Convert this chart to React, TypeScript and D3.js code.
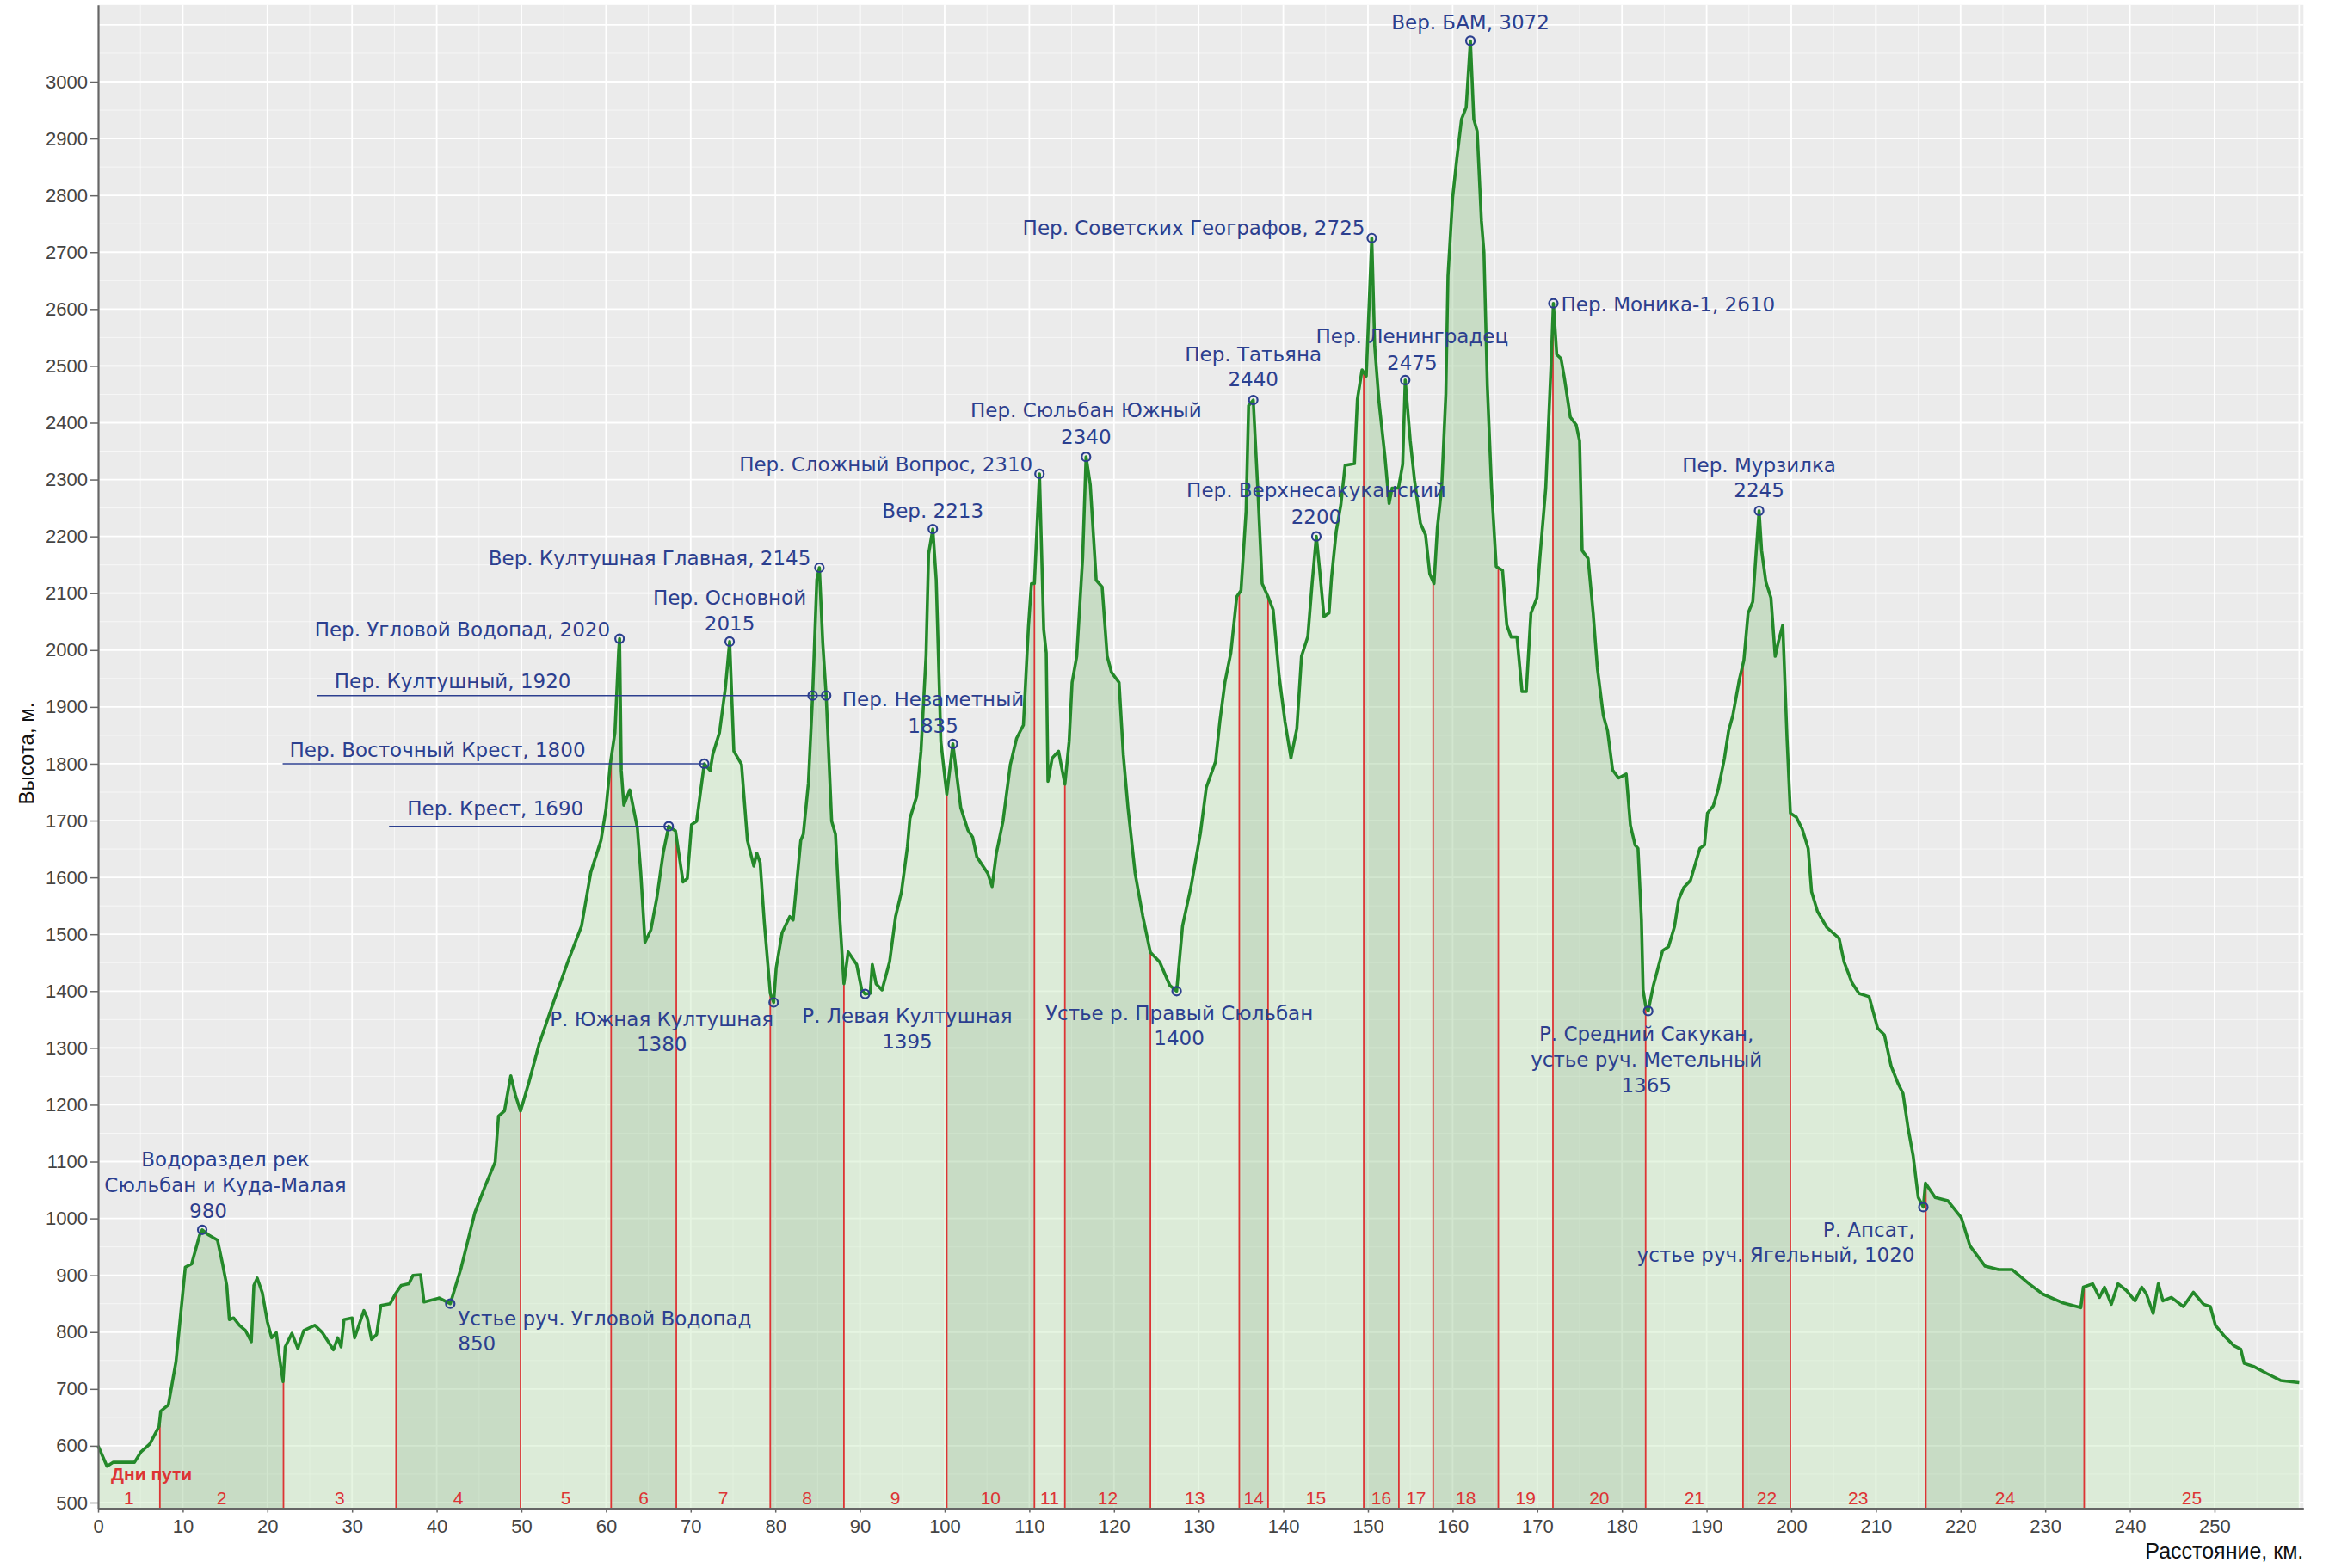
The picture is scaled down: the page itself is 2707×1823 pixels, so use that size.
import React, { useLayoutEffect, useRef } from 'react';
import * as d3 from 'd3';

// elevation profile: distance along the route (km) and height (m)
const profileKm = [
  0, 1.05, 1.8, 4.3, 5.05, 6.1, 7.2, 7.4, 8.3, 9.2, 10.3, 11.05, 12.0, 12.3, 13.05, 14.1, 14.7, 15.2, 15.5, 16.0,
  16.7, 17.4, 18.1, 18.4, 18.8, 19.4, 20.0, 20.5, 21.05, 21.5, 21.85, 22.1, 22.9, 23.6, 24.3, 25.6, 26.5, 27.8, 28.3, 28.7,
  29.05, 30.0, 30.3, 31.4, 31.8, 32.3, 32.9, 33.4, 34.5, 35.2, 35.8, 36.7, 37.2, 38.1, 38.5, 40.3, 41.6, 42.9, 44.5, 45.8,
  46.9, 47.3, 48.0, 48.75, 49.3, 49.9, 50.9, 52.1, 53.9, 55.5, 57.1, 58.2, 59.4, 60.0, 60.5, 61.05, 61.5, 61.6, 61.8, 62.1,
  62.8, 63.7, 64.1, 64.6, 65.3, 66.0, 66.75, 67.4, 68.2, 69.1, 69.6, 70.1, 70.7, 71.6, 72.3, 72.6, 73.4, 74.1, 74.6, 75.1,
  76.0, 76.7, 77.45, 77.8, 78.2, 78.7, 79.4, 79.8, 80.1, 80.8, 81.7, 82.1, 83.0, 83.3, 83.9, 84.4, 84.9, 85.2, 85.6, 86.0,
  86.65, 87.1, 87.6, 88.1, 88.6, 89.6, 90.2, 90.6, 91.2, 91.45, 91.9, 92.6, 93.5, 94.2, 94.9, 95.6, 95.9, 96.7, 97.2, 97.8,
  98.1, 98.6, 99.0, 99.55, 100.25, 100.97, 101.9, 102.75, 103.3, 103.8, 105.1, 105.6, 106.1, 106.9, 107.75, 108.5, 109.3, 109.9, 110.25, 110.6,
  111.2, 111.7, 112.0, 112.2, 112.7, 113.45, 114.2, 114.7, 115.05, 115.6, 116.3, 116.7, 117.2, 117.9, 118.6, 119.2, 119.7, 120.6, 121.1, 121.65,
  122.5, 123.4, 124.3, 125.4, 126.6, 127.4, 128.1, 129.1, 130.2, 130.9, 132.0, 132.5, 133.1, 133.8, 134.5, 135.0, 135.6, 135.9, 136.45, 137.0,
  137.5, 138.2, 138.8, 139.5, 140.2, 140.9, 141.6, 142.15, 142.9, 143.4, 143.9, 144.3, 144.8, 145.4, 145.7, 146.25, 146.8, 147.3, 148.4, 148.75,
  149.3, 149.8, 150.45, 150.8, 151.3, 152.0, 152.5, 152.85, 153.6, 154.1, 154.4, 155.0, 155.5, 156.2, 156.8, 157.3, 157.8, 158.2, 158.7, 159.2,
  159.45, 160.0, 160.5, 161.05, 161.6, 162.1, 162.5, 162.9, 163.4, 163.7, 164.1, 164.6, 165.15, 165.9, 166.4, 166.9, 167.6, 168.2, 168.7, 169.25,
  169.96, 170.3, 171.0, 171.6, 171.9, 172.3, 172.8, 173.2, 173.9, 174.6, 175.0, 175.3, 176.0, 176.6, 177.1, 177.8, 178.3, 178.9, 179.6, 180.5,
  181.0, 181.55, 181.9, 182.3, 182.5, 182.8, 183.1, 183.7, 184.2, 184.8, 185.5, 186.2, 186.7, 187.3, 188.1, 189.2, 189.75, 190.1, 190.8, 191.35,
  192.1, 192.6, 193.1, 193.85, 194.4, 194.9, 195.45, 195.8, 196.2, 196.5, 197.0, 197.6, 198.1, 198.5, 199.0, 199.5, 199.9, 200.6, 201.3, 202.0,
  202.4, 203.1, 204.2, 205.65, 206.25, 207.2, 208.0, 209.2, 210.2, 211.0, 211.8, 212.6, 213.2, 213.8, 214.4, 215.0, 215.6, 215.85, 217.0, 218.5,
  220.1, 221.1, 222.9, 224.5, 226.1, 228.1, 229.7, 232.0, 234.2, 234.5, 235.6, 236.4, 237.0, 237.8, 238.6, 239.6, 240.6, 241.4, 241.95, 242.75,
  243.35, 243.9, 244.9, 246.3, 247.5, 248.7, 249.5, 250.1, 251.1, 252.3, 253.1, 253.5, 254.7, 256.2, 257.8, 260.0,
];
const profileElev = [
  600, 564, 571, 571, 589, 603, 634, 661, 672, 748, 914, 920, 971, 980, 971, 962, 920, 882, 822, 825,
  812, 803, 783, 882, 895, 869, 818, 790, 799, 748, 713, 774, 798, 771, 803, 812, 799, 769, 790, 774,
  822, 825, 790, 838, 825, 787, 796, 847, 850, 869, 882, 885, 900, 901, 853, 860, 850, 914, 1010, 1060,
  1099, 1180, 1189, 1251, 1217, 1189, 1240, 1307, 1385, 1452, 1514, 1609, 1665, 1721, 1799, 1855, 2001, 2020, 1788, 1727,
  1754, 1687, 1609, 1486, 1508, 1564, 1643, 1690, 1682, 1592, 1598, 1693, 1699, 1800, 1788, 1816, 1855, 1934, 2015, 1822,
  1799, 1665, 1620, 1643, 1626, 1520, 1396, 1380, 1441, 1503, 1531, 1525, 1665, 1676, 1766, 1920, 2124, 2145, 2012, 1920,
  1699, 1676, 1531, 1413, 1469, 1447, 1402, 1395, 1396, 1447, 1413, 1402, 1452, 1531, 1575, 1654, 1704, 1743, 1822, 1990,
  2169, 2213, 2124, 1839, 1746, 1835, 1723, 1683, 1671, 1636, 1607, 1584, 1642, 1700, 1798, 1845, 1868, 2042, 2117, 2117,
  2310, 2036, 1995, 1769, 1810, 1822, 1764, 1839, 1943, 1989, 2163, 2340, 2291, 2123, 2111, 1989, 1961, 1943, 1816, 1723,
  1607, 1532, 1468, 1451, 1410, 1400, 1515, 1584, 1677, 1758, 1804, 1874, 1943, 1995, 2094, 2105, 2244, 2430, 2440, 2279,
  2117, 2094, 2071, 1955, 1874, 1810, 1862, 1989, 2024, 2117, 2200, 2140, 2059, 2065, 2128, 2209, 2256, 2325, 2328, 2441,
  2493, 2482, 2725, 2534, 2437, 2341, 2258, 2285, 2285, 2327, 2475, 2368, 2299, 2223, 2203, 2134, 2117, 2216, 2285, 2451,
  2658, 2796, 2865, 2934, 2955, 3072, 2934, 2913, 2755, 2700, 2465, 2285, 2147, 2140, 2044, 2023, 2023, 1927, 1927, 2065,
  2092, 2161, 2285, 2492, 2610, 2520, 2513, 2479, 2410, 2396, 2368, 2175, 2161, 2065, 1968, 1885, 1858, 1789, 1775, 1782,
  1692, 1657, 1651, 1526, 1402, 1374, 1365, 1409, 1437, 1471, 1478, 1513, 1561, 1582, 1595, 1651, 1657, 1713, 1726, 1754,
  1809, 1858, 1885, 1947, 1982, 2065, 2085, 2161, 2245, 2175, 2120, 2092, 1989, 2016, 2044, 1844, 1713, 1706, 1685, 1651,
  1575, 1540, 1512, 1493, 1451, 1414, 1396, 1390, 1335, 1323, 1268, 1238, 1220, 1159, 1110, 1037, 1020, 1062, 1037, 1031,
  1001, 952, 916, 910, 910, 885, 867, 852, 843, 879, 885, 861, 879, 849, 885, 873, 855, 879, 867, 833,
  885, 855, 861, 845, 870, 849, 845, 812, 794, 776, 770, 745, 739, 727, 715, 711,
];

// where each day of the trek ends, km
const dayEndsKm = [
  7.3, 21.9, 35.2, 49.9, 60.6, 68.3, 79.4, 88.1, 100.25, 110.6, 114.2, 124.3,
  134.8, 138.2, 149.5, 153.65, 157.7, 165.4, 171.85, 182.8, 194.3, 199.9, 215.9, 234.6,
];
const dayNames = [
  '1', '2', '3', '4', '5', '6', '7', '8', '9', '10', '11', '12', '13',
  '14', '15', '16', '17', '18', '19', '20', '21', '22', '23', '24', '25',
];

// named passes, summits and river crossings
const pointKm = [
  12.3, 41.6, 61.6, 67.4, 71.6, 74.6, 79.8, 84.4, 86.0, 85.2, 90.6, 98.6, 100.97,
  111.2, 116.7, 127.4, 136.45, 143.9, 150.45, 154.4, 162.1, 171.9, 183.1, 196.2, 215.6,
];
const pointElev = [
  980, 850, 2020, 1690, 1800, 2015, 1380, 1920, 1920, 2145, 1395, 2213, 1835,
  2310, 2340, 1400, 2440, 2200, 2725, 2475, 3072, 2610, 1365, 2245, 1020,
];
const pointLabels: string[][] = [
  ['Водораздел рек', 'Сюльбан и Куда-Малая', '980'],
  ['Устье руч. Угловой Водопад', '850'],
  ['Пер. Угловой Водопад, 2020'],
  ['Пер. Крест, 1690'],
  ['Пер. Восточный Крест, 1800'],
  ['Пер. Основной', '2015'],
  ['Р. Южная Култушная', '1380'],
  ['Пер. Култушный, 1920'],
  [],
  ['Вер. Култушная Главная, 2145'],
  ['Р. Левая Култушная', '1395'],
  ['Вер. 2213'],
  ['Пер. Незаметный', '1835'],
  ['Пер. Сложный Вопрос, 2310'],
  ['Пер. Сюльбан Южный', '2340'],
  ['Устье р. Правый Сюльбан', '1400'],
  ['Пер. Татьяна', '2440'],
  ['Пер. Верхнесакуканский', '2200'],
  ['Пер. Советских Географов, 2725'],
  ['Пер. Ленинградец', '2475'],
  ['Вер. БАМ, 3072'],
  ['Пер. Моника-1, 2610'],
  ['Р. Средний Сакукан,', 'устье руч. Метельный', '1365'],
  ['Пер. Мурзилка', '2245'],
  ['Р. Апсат,', 'устье руч. Ягельный, 1020'],
];

const yTickValues = d3.range(500, 3001, 100);
const xTickValues = d3.range(0, 251, 10);

// label placement relative to its marker (px)
type LabelPos = {
  anchor: 'start' | 'middle' | 'end';
  dx: number;
  dy: number[];
  lineDx?: number[];
  leader?: number;
};
const labelLayout: LabelPos[] = [
  { anchor: 'middle', dx: 27, dy: [-74, -44, -14], lineDx: [0, 0, -20] },
  { anchor: 'start', dx: 9, dy: [25, 54] },
  { anchor: 'end', dx: -11, dy: [-3] },
  { anchor: 'end', dx: -99, dy: [-13], leader: -325 },
  { anchor: 'end', dx: -138, dy: [-8], leader: -490 },
  { anchor: 'middle', dx: 0, dy: [-43, -13] },
  { anchor: 'middle', dx: -130, dy: [28, 57] },
  { anchor: 'end', dx: -281, dy: [-9], leader: -576 },
  { anchor: 'end', dx: 0, dy: [], leader: -16 },
  { anchor: 'end', dx: -10, dy: [-3] },
  { anchor: 'middle', dx: 49, dy: [33, 63] },
  { anchor: 'middle', dx: 0, dy: [-13] },
  { anchor: 'middle', dx: -23, dy: [-44, -13] },
  { anchor: 'end', dx: -8, dy: [-3] },
  { anchor: 'middle', dx: 0, dy: [-46, -15] },
  { anchor: 'middle', dx: 3, dy: [34, 63] },
  { anchor: 'middle', dx: 0, dy: [-45, -16] },
  { anchor: 'middle', dx: 0, dy: [-46, -15] },
  { anchor: 'end', dx: -8, dy: [-4] },
  { anchor: 'middle', dx: 8, dy: [-43, -12] },
  { anchor: 'middle', dx: 0, dy: [-13] },
  { anchor: 'start', dx: 9, dy: [9] },
  { anchor: 'middle', dx: -2, dy: [35, 65, 95] },
  { anchor: 'middle', dx: 0, dy: [-45, -16] },
  { anchor: 'end', dx: -10, dy: [35, 64] },
];

type Pt = { km: number; elev: number };

const WIDTH = 2707;
const HEIGHT = 1823;
const LABEL_FONT = '"DejaVu Sans", Verdana, sans-serif';
const AXIS_FONT = '"Liberation Sans", Arial, sans-serif';
const BLUE = '#2c3f8f';
const RED = '#dd3434';

const drawProfile = (node: SVGSVGElement) => {
  const svg = d3.select(node);
  svg.selectAll('*').remove();

  const x = d3.scaleLinear().domain([0, 260.5]).range([114, 2677.3]);
  const y = d3.scaleLinear().domain([490, 3135]).range([1753.6, 5.8]);
  const [x0, x1] = x.range();
  const [yBottom, yTop] = y.range();

  const pts: Pt[] = profileKm.map((km, i) => ({ km, elev: profileElev[i] }));
  const bisect = d3.bisector((d: Pt) => d.km).left;
  const elevAt = (km: number) => {
    const i = bisect(pts, km);
    if (i <= 0) return pts[0].elev;
    if (i >= pts.length) return pts[pts.length - 1].elev;
    const a = pts[i - 1];
    const b = pts[i];
    return a.elev + ((b.elev - a.elev) * (km - a.km)) / (b.km - a.km);
  };

  // background + grid
  svg.append('rect')
    .attr('x', x0).attr('y', yTop)
    .attr('width', x1 - x0).attr('height', yBottom - yTop)
    .attr('fill', '#ebebeb');

  const grid = svg.append('g').classed('grid', true);
  d3.range(500, 3101, 50).forEach((v) => {
    grid.append('line')
      .attr('x1', x0).attr('x2', x1).attr('y1', y(v)).attr('y2', y(v))
      .attr('stroke', '#fff')
      .attr('stroke-width', v % 100 === 0 ? 1.8 : 1)
      .attr('stroke-opacity', v % 100 === 0 ? 1 : 0.6);
  });
  d3.range(5, 261, 5).forEach((v) => {
    grid.append('line')
      .attr('x1', x(v)).attr('x2', x(v)).attr('y1', yBottom).attr('y2', yTop)
      .attr('stroke', '#fff')
      .attr('stroke-width', v % 10 === 0 ? 1.8 : 1)
      .attr('stroke-opacity', v % 10 === 0 ? 1 : 0.6);
  });

  // filled day segments
  const bounds = [0, ...dayEndsKm, profileKm[profileKm.length - 1]];
  const area = d3.area<Pt>()
    .x((d) => x(d.km))
    .y0(yBottom)
    .y1((d) => y(d.elev));
  const fills = svg.append('g').classed('days', true);
  bounds.slice(0, -1).forEach((start, i) => {
    const end = bounds[i + 1];
    const seg: Pt[] = [
      { km: start, elev: elevAt(start) },
      ...pts.filter((p) => p.km > start && p.km < end),
      { km: end, elev: elevAt(end) },
    ];
    fills.append('path')
      .datum(seg)
      .attr('d', area)
      .attr('fill', i % 2 === 1 ? '#a5cd9f' : '#cdebc5')
      .attr('fill-opacity', 0.5);
  });

  dayEndsKm.forEach((km) => {
    fills.append('line')
      .attr('x1', x(km)).attr('x2', x(km))
      .attr('y1', yBottom).attr('y2', y(elevAt(km)))
      .attr('stroke', RED)
      .attr('stroke-width', 1.8);
  });

  // profile line
  const line = d3.line<Pt>().x((d) => x(d.km)).y((d) => y(d.elev));
  svg.append('path')
    .datum(pts)
    .attr('d', line)
    .attr('fill', 'none')
    .attr('stroke', '#24892a')
    .attr('stroke-width', 3.6)
    .attr('stroke-linejoin', 'round');

  // day numbers
  const dayText = svg.append('g')
    .attr('font-family', AXIS_FONT)
    .attr('fill', RED);
  dayNames.forEach((name, i) => {
    dayText.append('text')
      .attr('x', x((bounds[i] + bounds[i + 1]) / 2))
      .attr('y', 1749)
      .attr('text-anchor', 'middle')
      .attr('font-size', 21)
      .text(name);
  });
  dayText.append('text')
    .attr('x', 129)
    .attr('y', 1721)
    .attr('font-size', 21)
    .attr('font-weight', 'bold')
    .text('Дни пути');

  // annotations
  const notes = svg.append('g').classed('notes', true);
  pointKm.forEach((km, i) => {
    const lay = labelLayout[i];
    const cx = x(km);
    const cy = y(pointElev[i]);
    if (lay.leader !== undefined) {
      notes.append('line')
        .attr('x1', cx + lay.leader).attr('x2', cx)
        .attr('y1', cy).attr('y2', cy)
        .attr('stroke', BLUE)
        .attr('stroke-width', 1.5);
    }
  });
  pointKm.forEach((km, i) => {
    const lay = labelLayout[i];
    const cx = x(km);
    const cy = y(pointElev[i]);
    notes.append('circle')
      .attr('cx', cx).attr('cy', cy).attr('r', 5)
      .attr('fill', 'none')
      .attr('stroke', BLUE)
      .attr('stroke-width', 2.2);
    pointLabels[i].forEach((txt, j) => {
      notes.append('text')
        .attr('x', cx + lay.dx + (lay.lineDx ? lay.lineDx[j] : 0))
        .attr('y', cy + lay.dy[j])
        .attr('text-anchor', lay.anchor)
        .attr('font-family', LABEL_FONT)
        .attr('font-size', 23)
        .attr('fill', BLUE)
        .text(txt);
    });
  });

  // axes
  const yAxis = d3.axisLeft(y)
    .tickValues(yTickValues)
    .tickFormat(d3.format('d'))
    .tickSize(9)
    .tickPadding(3)
    .tickSizeOuter(0);
  const xAxis = d3.axisBottom(x)
    .tickValues(xTickValues)
    .tickFormat(d3.format('d'))
    .tickSize(5)
    .tickPadding(8)
    .tickSizeOuter(0);

  const yg = svg.append('g').attr('transform', `translate(${x0},0)`).call(yAxis);
  const xg = svg.append('g').attr('transform', `translate(0,${yBottom})`).call(xAxis);
  [yg, xg].forEach((g) => {
    g.select('.domain').attr('stroke', '#666').attr('stroke-width', 2.2);
    g.selectAll('.tick line').attr('stroke', '#666').attr('stroke-width', 1.5);
    g.selectAll('.tick text')
      .attr('fill', '#444')
      .attr('font-family', AXIS_FONT)
      .attr('font-size', 22);
  });

  svg.append('text')
    .attr('transform', 'translate(31,876) rotate(-90)')
    .attr('text-anchor', 'middle')
    .attr('dy', '0.35em')
    .attr('font-family', AXIS_FONT)
    .attr('font-size', 24)
    .attr('fill', '#111')
    .text('Высота, м.');

  svg.append('text')
    .attr('x', x1)
    .attr('y', 1812)
    .attr('text-anchor', 'end')
    .attr('font-family', AXIS_FONT)
    .attr('font-size', 25)
    .attr('fill', '#111')
    .text('Расстояние, км.');
};

const App: React.FC = () => {
  const svgRef = useRef<SVGSVGElement>(null);

  useLayoutEffect(() => {
    if (svgRef.current) drawProfile(svgRef.current);
  }, []);

  return (
    <svg
      ref={svgRef}
      width={WIDTH}
      height={HEIGHT}
      style={{ position: 'absolute', left: 0, top: 0, background: '#fff' }}
    />
  );
};

export default App;
